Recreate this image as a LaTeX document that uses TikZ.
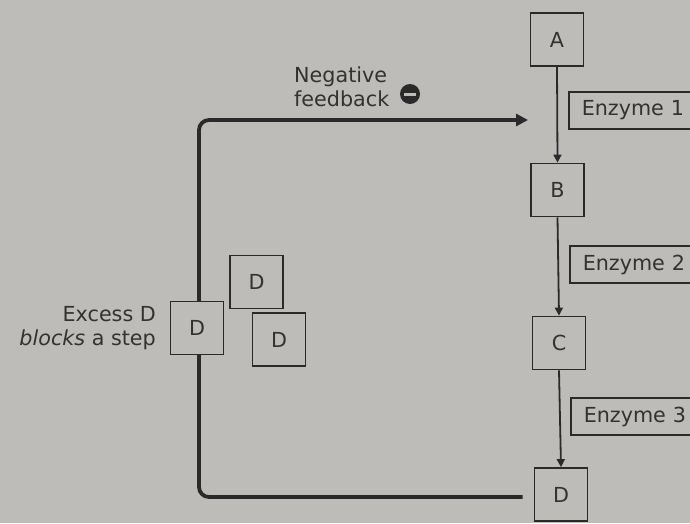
\documentclass[tikz,border=0pt]{standalone}
\usepackage{fontspec}
\setmainfont{DejaVu Sans}
\usetikzlibrary{arrows.meta}
\definecolor{bgcol}{RGB}{190,188,185}
\definecolor{inkcol}{RGB}{50,50,50}
\definecolor{linecol}{RGB}{42,42,42}
\begin{document}
\begin{tikzpicture}[x=1pt,y=-1pt,
  every node/.style={font=\fontsize{20.7}{24}\selectfont, text=inkcol},
  molbox/.style={draw=linecol, line width=1.8pt, fill=bgcol, minimum width=53pt, minimum height=53pt, inner sep=0pt},
  enzbox/.style={draw=linecol, line width=1.5pt, fill=bgcol, anchor=west, minimum height=37pt, inner xsep=13pt, text width=112pt, align=left},
  chainarrow/.style={draw=linecol, line width=1.8pt, -{Triangle[length=8pt,width=8pt]}},
  fbline/.style={draw=linecol, line width=3.8pt, rounded corners=10pt, -{Triangle[length=12pt,width=12pt]}},
  lbl/.style={inner sep=0pt}
]
\fill[bgcol] (0,0) rectangle (690,523);
\useasboundingbox (0,0) rectangle (690,523);
\clip (0,0) rectangle (690,523);

% main chain
\node[molbox] (A) at (557,39.5) {A};
\node[molbox] (B) at (557.5,190) {B};
\node[molbox] (C) at (559,343) {C};
\node[molbox] (D) at (561,494.5) {D};

\node[enzbox] (e1) at (568,110.5) {Enzyme 1};
\node[enzbox] (e2) at (569,264.5) {Enzyme 2};
\node[enzbox] (e3) at (570,416.5) {Enzyme 3};

\draw[chainarrow] (A.south) -- (B.north);
\draw[chainarrow] (B.south) -- (C.north);
\draw[chainarrow] (C.south) -- (D.north);

% feedback path
\coordinate (fbstart) at ([xshift=-11pt]D.west |- 0,497);
\coordinate (fbend) at (528,120);
\draw[fbline] (fbstart) -- (199,497) -- (199,120) -- (fbend);

% excess D boxes
\node[molbox] (Dx) at (197,328) {D};
\node[molbox] (Dy) at (256.5,282) {D};
\node[molbox] (Dz) at (279,339.5) {D};

% labels
\node[lbl, align=left, anchor=west] (nf) at (294,87) {Negative\\feedback};
\node[circle, fill=linecol, minimum size=20pt, inner sep=0pt] (neg) at (410,94) {};
\draw[bgcol, line width=3pt] ([xshift=-6pt]neg.center) -- ([xshift=6pt]neg.center);

\node[lbl, align=right, anchor=east] (ex) at (156,328) {Excess D\\\textit{blocks} a step};
\end{tikzpicture}
\end{document}
